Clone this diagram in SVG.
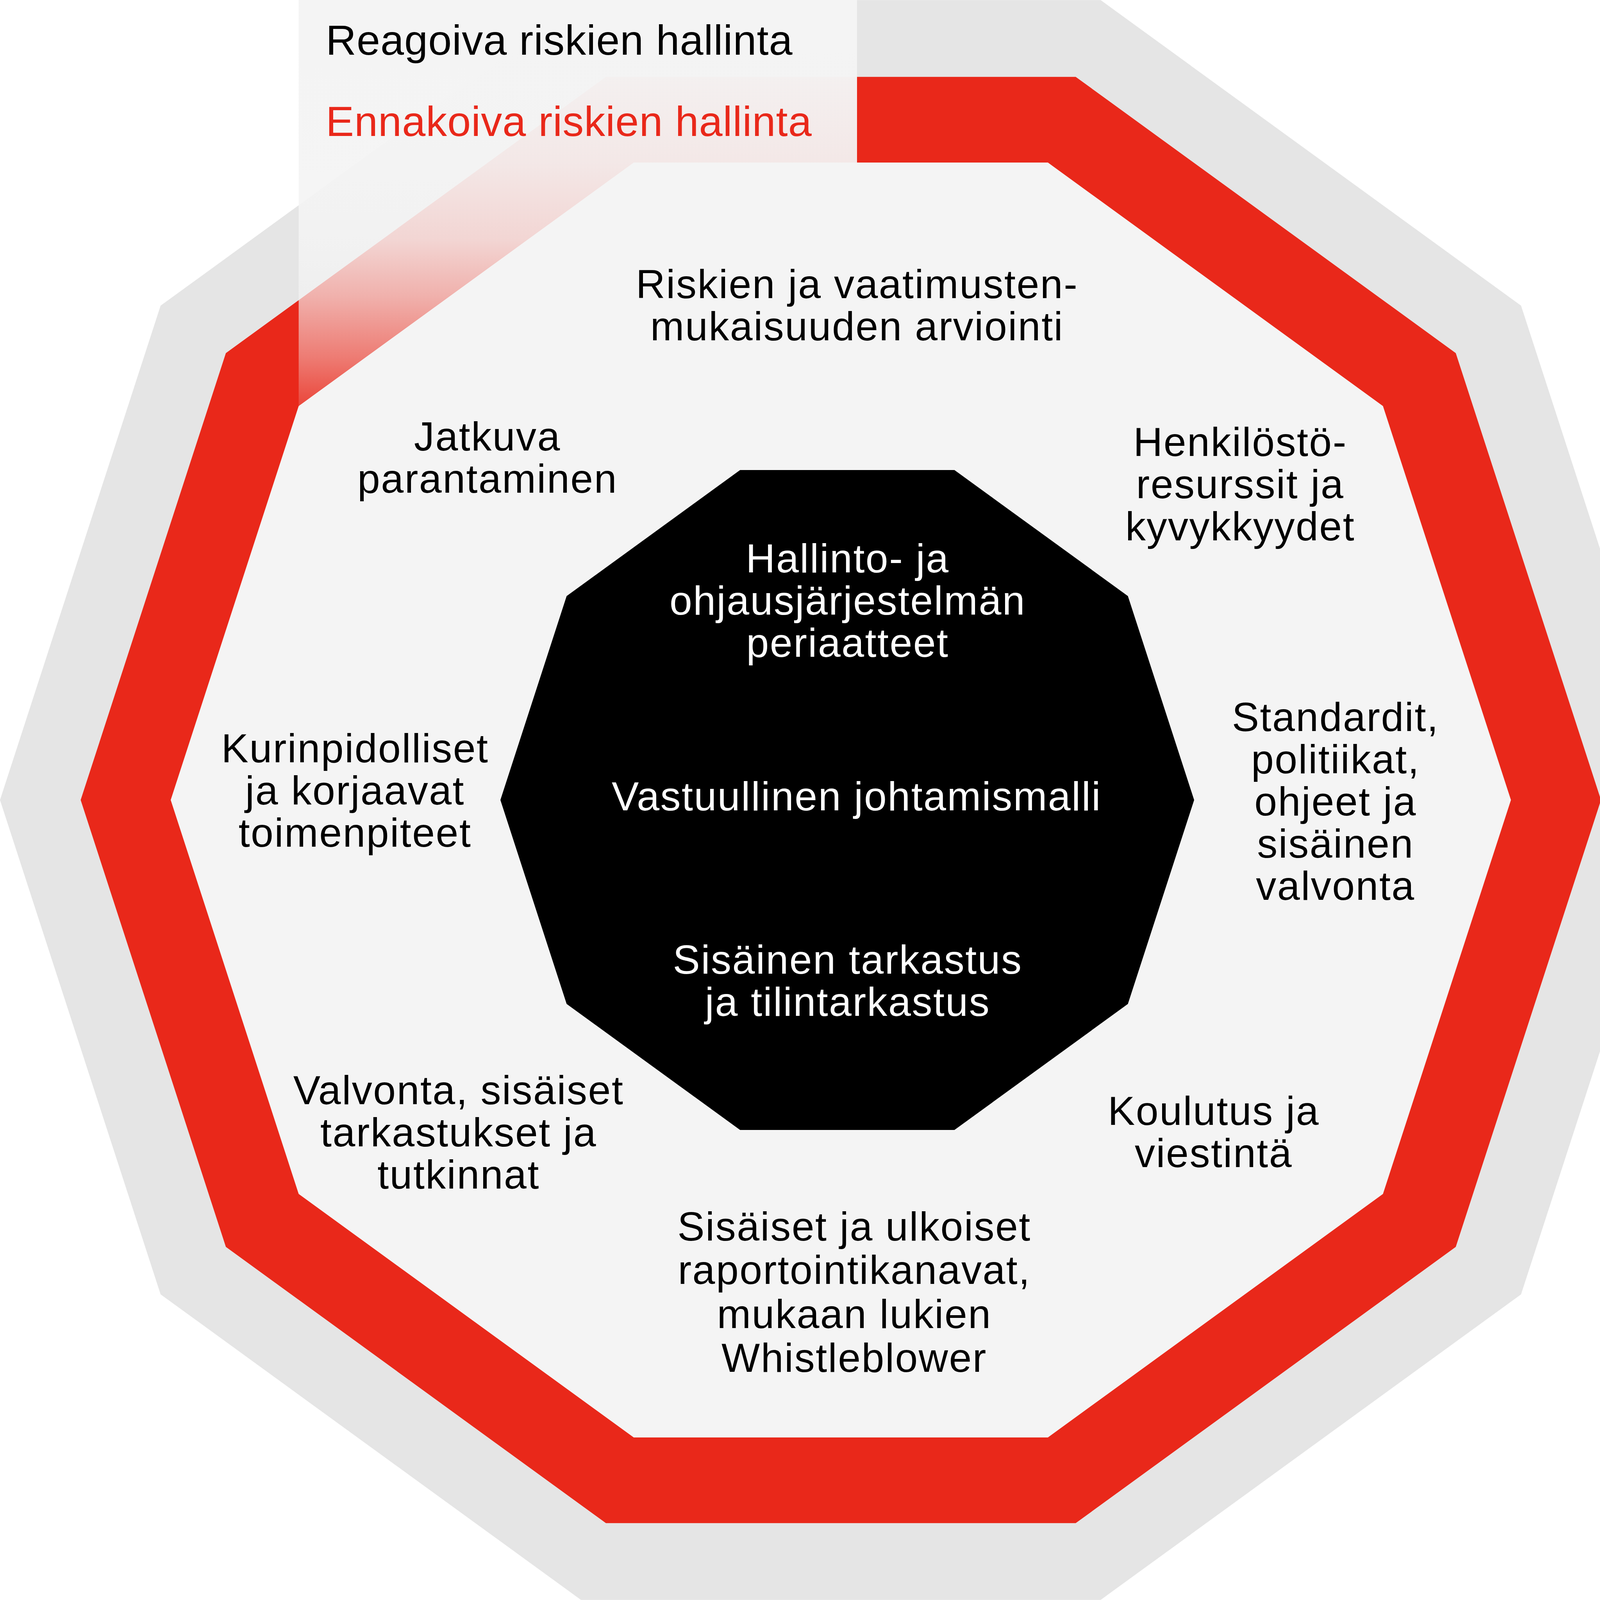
<svg xmlns="http://www.w3.org/2000/svg" width="4305" height="4095" viewBox="0 0 4305 4095">
<style>
.t{font-family:"Liberation Sans","Noto Sans",Arial,sans-serif;font-size:104px;letter-spacing:2.5px;text-anchor:middle;fill:#000}
.w{fill:#fff}
.lg{text-anchor:start;font-size:108px;letter-spacing:1px}
.red{fill:#e9281a}
</style>
<defs>
<linearGradient id="fade" gradientUnits="userSpaceOnUse" x1="0" y1="0" x2="0" y2="1039.2">
<stop offset="0" stop-color="#f4f4f4" stop-opacity="1"/>
<stop offset="0.19" stop-color="#f4f4f4" stop-opacity="0.98"/>
<stop offset="0.40" stop-color="#f4f4f4" stop-opacity="0.94"/>
<stop offset="0.59" stop-color="#f4f4f4" stop-opacity="0.85"/>
<stop offset="0.73" stop-color="#f4f4f4" stop-opacity="0.67"/>
<stop offset="0.88" stop-color="#f4f4f4" stop-opacity="0.41"/>
<stop offset="1" stop-color="#f4f4f4" stop-opacity="0.15"/>
</linearGradient>
</defs>
<rect width="4305" height="4095" fill="#ffffff"/>
<g id="rings">
<polygon id="outer-ring" fill="#e5e5e5" points="4305,2047.5 3893.9,782.3 2817.7,0.3 1487.3,0.3 411.1,782.3 0,2047.5 411.1,3312.7 1487.3,4094.7 2817.7,4094.7 3893.9,3312.7"/>
<polygon id="red-ring" fill="#e9281a" points="4098.5,2047.5 3726.8,903.7 2753.8,196.7 1551.2,196.7 578.2,903.7 206.5,2047.5 578.2,3191.3 1551.2,3898.3 2753.8,3898.3 3726.8,3191.3"/>
<polygon id="inner-field" fill="#f4f4f4" points="3868,2047.5 3540.4,1039.2 2682.6,416 1622.4,416 764.6,1039.2 437,2047.5 764.6,3055.8 1622.4,3679 2682.6,3679 3540.4,3055.8"/>
</g>
<g id="legend">
<rect x="764.6" y="0" width="1429.4" height="1039.2" fill="url(#fade)"/>
<text class="t lg" x="834" y="140">Reagoiva riskien hallinta</text>
<text class="t lg red" x="834" y="348">Ennakoiva riskien hallinta</text>
</g>
<g id="core">
<polygon fill="#000" points="3057,2047.5 2887.4,1525.5 2443.4,1203 1894.6,1203 1450.6,1525.5 1281,2047.5 1450.6,2569.5 1894.6,2892 2443.4,2892 2887.4,2569.5"/>
<g id="core-principles"><text class="t w"><tspan x="2170" y="1465">Hallinto- ja</tspan><tspan x="2170" y="1573">ohjausjärjestelmän</tspan><tspan x="2170" y="1681">periaatteet</tspan></text></g>
<g id="core-model"><text class="t w" x="2193" y="2074">Vastuullinen johtamismalli</text></g>
<g id="core-audit"><text class="t w"><tspan x="2170" y="2492">Sisäinen tarkastus</tspan><tspan x="2170" y="2600">ja tilintarkastus</tspan></text></g>
</g>
<g id="node-risk"><text class="t"><tspan x="2194" y="763">Riskien ja vaatimusten-</tspan><tspan x="2194" y="871">mukaisuuden arviointi</tspan></text></g>
<g id="node-hr"><text class="t"><tspan x="3175" y="1167">Henkilöstö-</tspan><tspan x="3175" y="1275">resurssit ja</tspan><tspan x="3175" y="1383">kyvykkyydet</tspan></text></g>
<g id="node-standards"><text class="t"><tspan x="3419" y="1871">Standardit,</tspan><tspan x="3419" y="1979">politiikat,</tspan><tspan x="3419" y="2087">ohjeet ja</tspan><tspan x="3419" y="2195">sisäinen</tspan><tspan x="3419" y="2303">valvonta</tspan></text></g>
<g id="node-training"><text class="t"><tspan x="3107" y="2879">Koulutus ja</tspan><tspan x="3107" y="2987">viestintä</tspan></text></g>
<g id="node-reporting"><text class="t"><tspan x="2187" y="3175">Sisäiset ja ulkoiset</tspan><tspan x="2187" y="3286">raportointikanavat,</tspan><tspan x="2187" y="3399">mukaan lukien</tspan><tspan x="2187" y="3511">Whistleblower</tspan></text></g>
<g id="node-monitoring"><text class="t"><tspan x="1174" y="2826">Valvonta, sisäiset</tspan><tspan x="1174" y="2934">tarkastukset ja</tspan><tspan x="1174" y="3042">tutkinnat</tspan></text></g>
<g id="node-discipline"><text class="t"><tspan x="909" y="1951">Kurinpidolliset</tspan><tspan x="909" y="2059">ja korjaavat</tspan><tspan x="909" y="2167">toimenpiteet</tspan></text></g>
<g id="node-improvement"><text class="t"><tspan x="1248" y="1153">Jatkuva</tspan><tspan x="1248" y="1261">parantaminen</tspan></text></g>
<g id="connectors"/>
</svg>
